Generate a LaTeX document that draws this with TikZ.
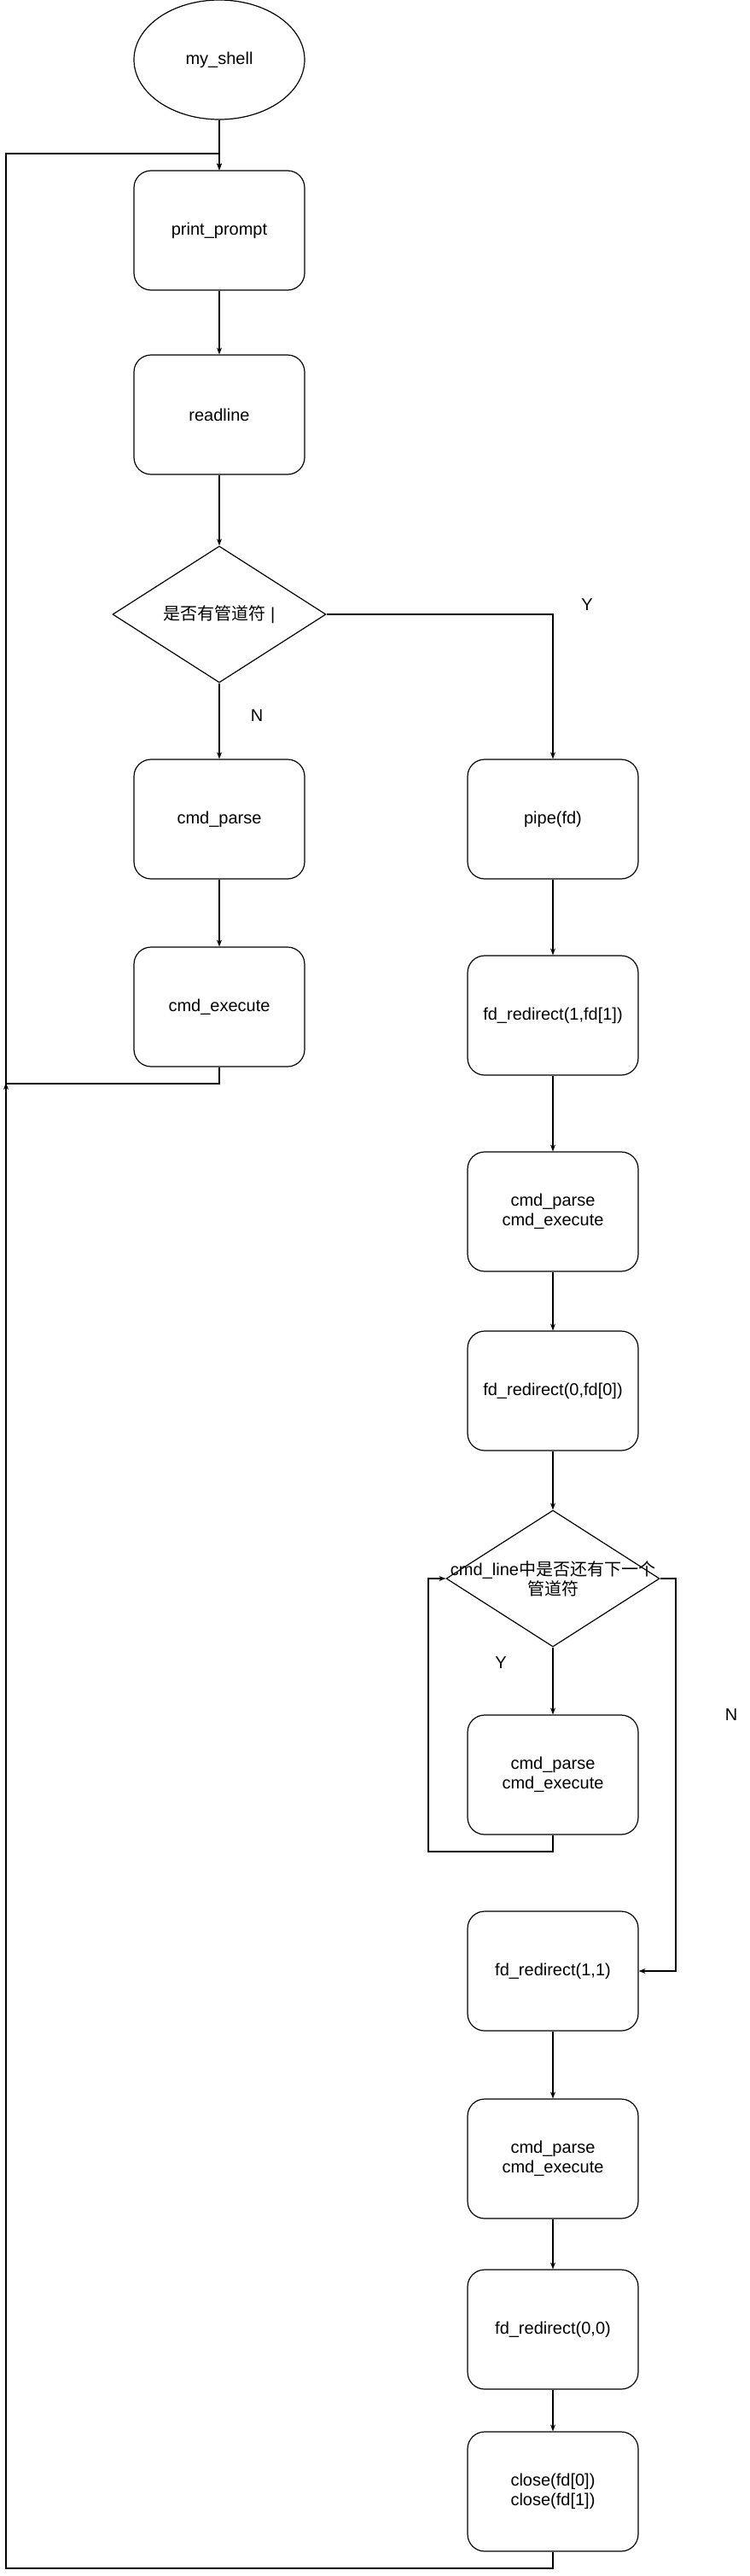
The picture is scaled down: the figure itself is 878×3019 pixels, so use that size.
\documentclass[tikz,border=0pt]{standalone}
\usepackage{fontspec}
\setmainfont{Liberation Sans}
\newfontfamily\cjk{Noto Sans CJK SC}
\usetikzlibrary{shapes.geometric,arrows.meta}

\begin{document}
\begin{tikzpicture}[x=1pt, y=-1pt, line width=1.2pt,
        txt/.style={align=center, font=\fontsize{20}{23}\selectfont},
        box/.style={txt, draw, rounded corners=20pt, minimum width=200pt, minimum height=140pt, inner sep=0pt},
        startnode/.style={txt, draw, ellipse, minimum width=200pt, minimum height=140pt, inner sep=0pt},
        decision/.style={txt, draw, diamond, minimum width=250pt, minimum height=160pt, inner sep=0pt},
        arr/.style={-{Stealth[length=8pt, width=6pt]}}]
            \useasboundingbox (0,0) rectangle (878,3019);
            \node[startnode] (start) at (257,70) {my\_shell};
            \node[box] (prompt) at (257,270) {print\_prompt};
            \node[box] (readline) at (257,486) {readline};
            \node[decision] (dec1) at (257,720) {{\cjk 是否有管道符} |};
            \node[box] (parse) at (257,960) {cmd\_parse};
            \node[box] (exec) at (257,1180) {cmd\_execute};
            \node[box] (pipe) at (648,960) {pipe(fd)};
            \node[box] (fdr1) at (648,1190) {fd\_redirect(1,fd[1])};
            \node[box] (cpe1) at (648,1420) {cmd\_parse\\cmd\_execute};
            \node[box] (fdr0) at (648,1630) {fd\_redirect(0,fd[0])};
            \node[decision] (dec2) at (648,1850) {};
            \node[txt] (dec2text) at (dec2) {cmd\_line{\cjk 中是否还有下一个}\\{\cjk 管道符}};
            \node[box] (cpe2) at (648,2080) {cmd\_parse\\cmd\_execute};
            \node[box] (fdr11) at (648,2310) {fd\_redirect(1,1)};
            \node[box] (cpe3) at (648,2530) {cmd\_parse\\cmd\_execute};
            \node[box] (fdr00) at (648,2730) {fd\_redirect(0,0)};
            \node[box] (close) at (648,2920) {close(fd[0])\\close(fd[1])};
            \node[txt] (ylab1) at (688,709) {Y};
            \node[txt] (nlab1) at (301,839) {N};
            \node[txt] (ylab2) at (587,1949) {Y};
            \node[txt] (nlab2) at (857,2010) {N};
            \coordinate (ret) at (7,1270);
            \coordinate (looptl) at (7,180);
            \coordinate (loopbl) at (7,3010);
            \coordinate (yloop) at (502,2170);
            \coordinate (nloop) at (792,1850);
            \draw[arr] (start) -- (prompt);
            \draw[arr] (prompt) -- (readline);
            \draw[arr] (readline) -- (dec1);
            \draw[arr] (dec1) -- (parse);
            \draw[arr] (dec1.east) -| (pipe.north);
            \draw[arr] (parse) -- (exec);
            \draw[arr] (exec.south) |- (ret) -- ++(0,-1);
            \draw[arr] (pipe) -- (fdr1);
            \draw[arr] (fdr1) -- (cpe1);
            \draw[arr] (cpe1) -- (fdr0);
            \draw[arr] (fdr0) -- (dec2);
            \draw[arr] (dec2) -- (cpe2);
            \draw[arr] (cpe2.south) |- (yloop) |- (dec2.west);
            \draw[arr] (dec2.east) -- (nloop) |- (fdr11.east);
            \draw[arr] (fdr11) -- (cpe3);
            \draw[arr] (cpe3) -- (fdr00);
            \draw[arr] (fdr00) -- (close);
            \draw[arr] (close.south) |- (loopbl) -- (looptl) -| (prompt.north);
        \end{tikzpicture}
\end{document}
